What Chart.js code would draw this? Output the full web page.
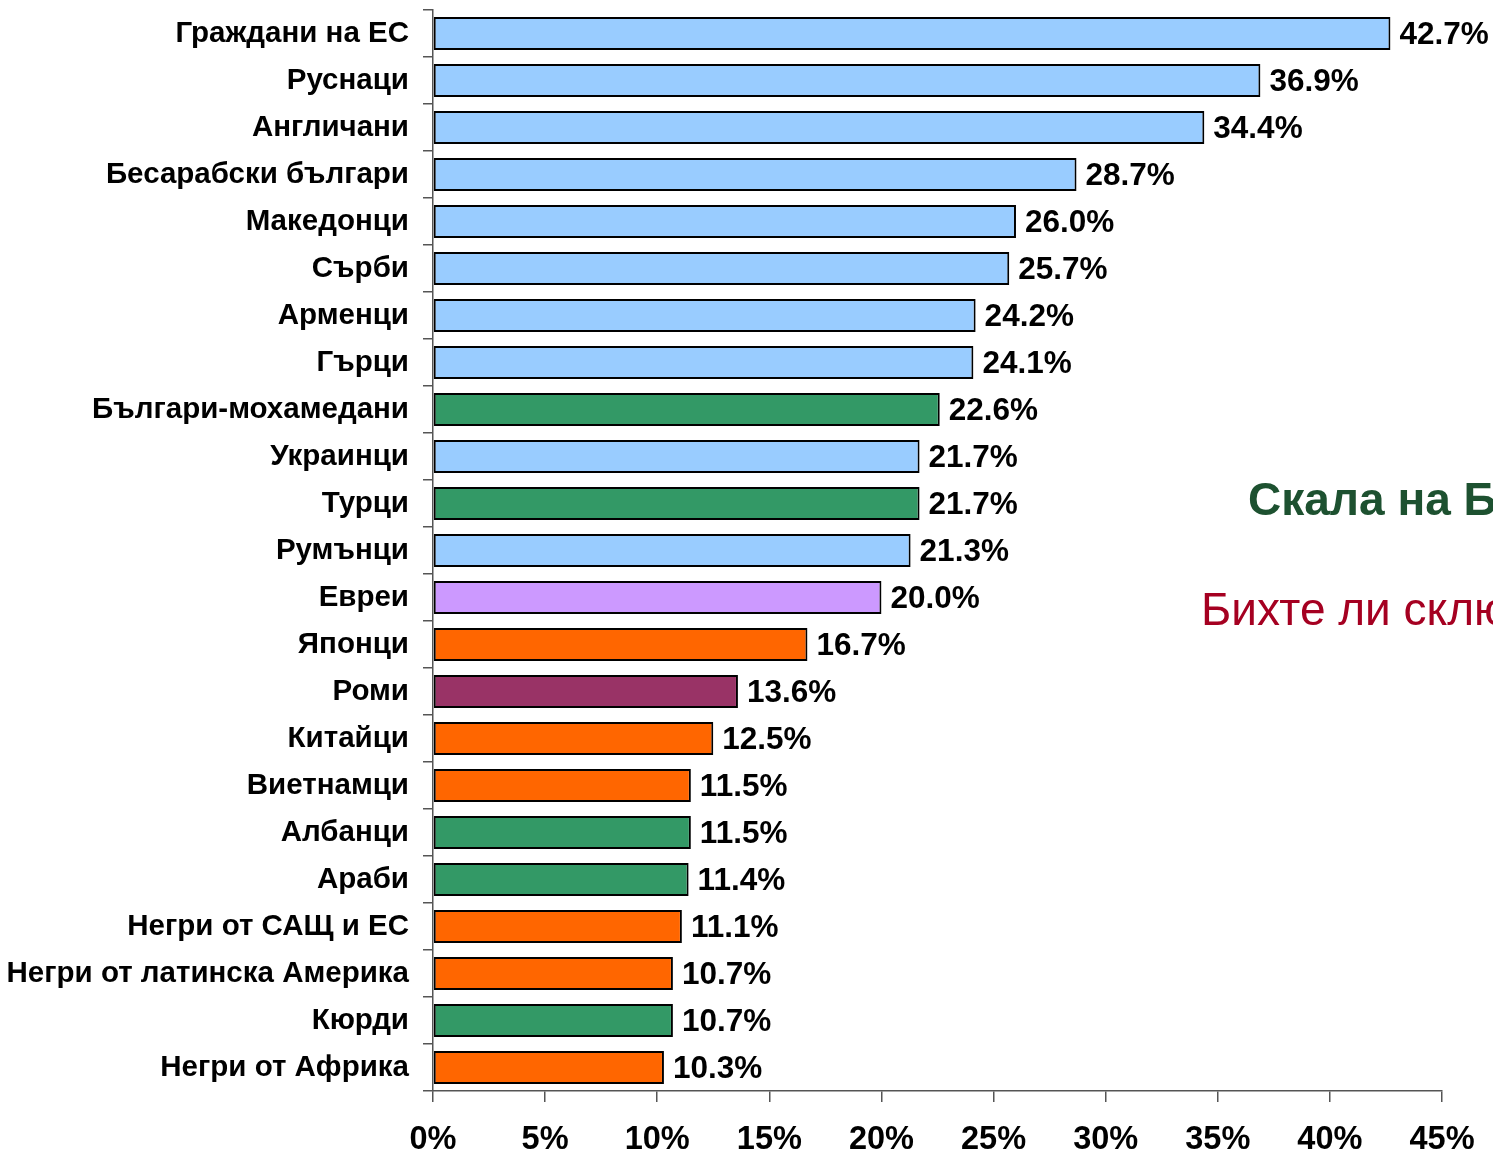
<!DOCTYPE html>
<html><head><meta charset="utf-8">
<script src="https://cdn.jsdelivr.net/npm/chart.js@4/dist/chart.umd.min.js"></script>
<style>html,body{margin:0;padding:0;background:#fff;overflow:hidden}</style>
</head><body>
<canvas id="c" width="1493" height="1157"></canvas>
<script>
const categories = ["Граждани на ЕС","Руснаци","Англичани","Бесарабски българи","Македонци","Сърби","Арменци","Гърци","Българи-мохамедани","Украинци","Турци","Румънци","Евреи","Японци","Роми","Китайци","Виетнамци","Албанци","Араби","Негри от САЩ и ЕС","Негри от латинска Америка","Кюрди","Негри от Африка"];
const values = [42.7,36.9,34.4,28.7,26.0,25.7,24.2,24.1,22.6,21.7,21.7,21.3,20.0,16.7,13.6,12.5,11.5,11.5,11.4,11.1,10.7,10.7,10.3];
const groups = ["b","b","b","b","b","b","b","b","g","b","g","b","p","o","r","o","o","g","g","o","o","g","o"];
const xTicks = [0,5,10,15,20,25,30,35,40,45];
const titleText = "Скала на Богардус";
const subtitleText = "Бихте ли сключили брак с представител на ...";

const palette = {b:"#99CCFF", g:"#339966", p:"#CC99FF", o:"#FF6600", r:"#993366"};

const labelPlugin = {
  id:"labels",
  afterDatasetsDraw(chart){
    const ctx = chart.ctx;
    const meta = chart.getDatasetMeta(0);
    ctx.save();
    ctx.font = "bold 31.5px 'Liberation Sans', Arial, sans-serif";
    ctx.fillStyle = "#000";
    ctx.textBaseline = "middle";
    ctx.textAlign = "left";
    meta.data.forEach((bar,i)=>{
      ctx.fillText(values[i].toFixed(1)+"%", bar.x+9, bar.y+2);
    });
    ctx.font = "bold 46px 'Liberation Sans', Arial, sans-serif";
    ctx.fillStyle = "#1D5130";
    ctx.textBaseline = "alphabetic";
    ctx.fillText(titleText, 1248, 515);
    ctx.font = "46px 'Liberation Sans', Arial, sans-serif";
    ctx.fillStyle = "#A50021";
    ctx.fillText(subtitleText, 1201, 625);
    ctx.restore();
  }
};

new Chart(document.getElementById("c"), {
  type:"bar",
  data:{
    labels:categories,
    datasets:[{
      data:values,
      backgroundColor:groups.map(g=>palette[g]),
      borderColor:"#000",
      borderWidth:2,
      borderSkipped:false,
      barPercentage:0.7,
      categoryPercentage:1.0
    }]
  },
  options:{
    indexAxis:"y",
    responsive:false,
    animation:false,
    devicePixelRatio:1,
    layout:{padding:{top:10,right:51,left:0,bottom:0}},
    plugins:{legend:{display:false},tooltip:{enabled:false}},
    scales:{
      x:{
        min:0,max:45,
        afterBuildTicks(s){ s.ticks = xTicks.map(v=>({value:v})); },
        afterFit(s){ s.height = 66; s.paddingLeft = 0; s.paddingRight = 0; },
        grid:{drawOnChartArea:false,drawTicks:true,tickLength:11,color:"#555",lineWidth:1.5},
        border:{display:true,color:"#555",width:1.5},
        ticks:{color:"#000",padding:19,font:{family:"'Liberation Sans', Arial, sans-serif",size:32.5,weight:"bold"},callback:v=>v+"%",maxRotation:0,autoSkip:false}
      },
      y:{
        afterFit(s){ s.width = 433; s.paddingTop = 0; s.paddingBottom = 0; },
        grid:{drawOnChartArea:false,drawTicks:true,tickLength:10,color:"#555",lineWidth:1.5,offset:true},
        border:{display:true,color:"#555",width:1.5},
        ticks:{color:"#000",padding:14,font:{family:"'Liberation Sans', Arial, sans-serif",size:29.5,weight:"bold"},autoSkip:false}
      }
    }
  },
  plugins:[labelPlugin]
});
</script>
</body></html>
